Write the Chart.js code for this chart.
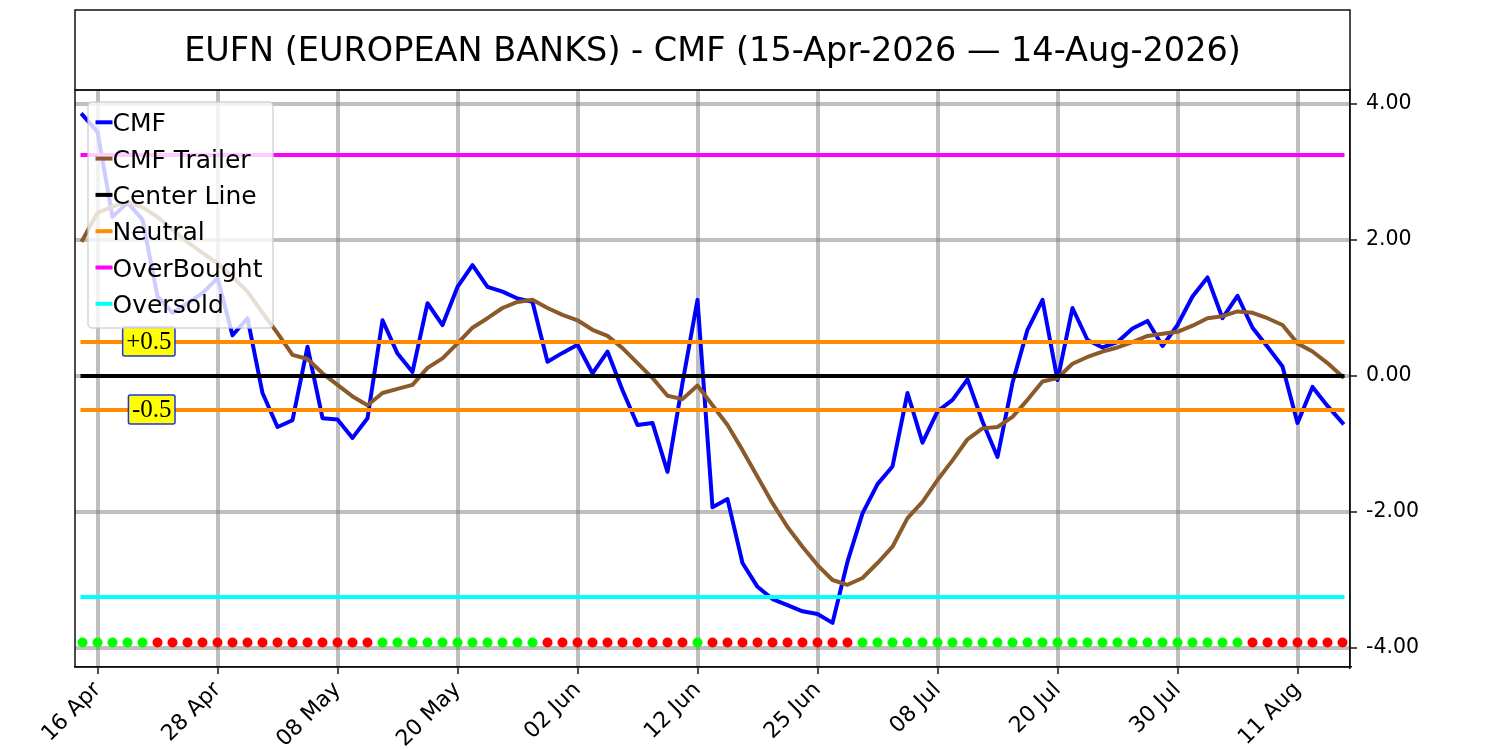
<!DOCTYPE html>
<html>
<head>
<meta charset="utf-8">
<script src="https://cdn.jsdelivr.net/npm/chart.js@4.4.1/dist/chart.umd.min.js"></script>
<style>
  html, body { margin:0; padding:0; background:#fff; }
  canvas { display:block; }
</style>
</head>
<body>
<canvas id="cmfChart" width="1500" height="750"></canvas>
<script>
// one value per trading day, 15-Apr-2026 .. 14-Aug-2026 (85 sessions)
const cmf = [
    3.84, 3.59, 2.34, 2.55, 2.30, 1.17, 0.93, 1.07, 1.22, 1.44,
    0.60, 0.85, -0.25, -0.75, -0.65, 0.43, -0.62, -0.64, -0.91, -0.62,
    0.82, 0.33, 0.06, 1.07, 0.75, 1.31, 1.63, 1.31, 1.24, 1.14,
    1.09, 0.21, 0.34, 0.46, 0.04, 0.36, -0.21, -0.72, -0.69, -1.41,
    -0.10, 1.12, -1.93, -1.81, -2.75, -3.10, -3.28, -3.37, -3.46, -3.50,
    -3.63, -2.73, -2.02, -1.59, -1.33, -0.25, -0.98, -0.52, -0.35, -0.05,
    -0.67, -1.19, -0.10, 0.68, 1.12, -0.06, 1.00, 0.53, 0.42, 0.50,
    0.70, 0.81, 0.44, 0.75, 1.17, 1.45, 0.85, 1.18, 0.71, 0.43,
    0.14, -0.69, -0.16, -0.44, -0.69
];
const trailer = [
    2.00, 2.40, 2.49, 2.56, 2.48, 2.34, 2.15, 1.97, 1.81, 1.66,
    1.46, 1.24, 0.93, 0.63, 0.31, 0.25, 0.04, -0.13, -0.30, -0.43,
    -0.25, -0.19, -0.13, 0.12, 0.26, 0.48, 0.71, 0.85, 1.00, 1.09,
    1.12, 1.00, 0.90, 0.82, 0.68, 0.59, 0.41, 0.19, -0.03, -0.29,
    -0.34, -0.14, -0.43, -0.72, -1.09, -1.48, -1.87, -2.22, -2.51, -2.78,
    -3.00, -3.07, -2.97, -2.75, -2.51, -2.09, -1.85, -1.53, -1.24, -0.93,
    -0.77, -0.75, -0.60, -0.35, -0.08, -0.03, 0.18, 0.28, 0.36, 0.42,
    0.50, 0.59, 0.62, 0.65, 0.74, 0.85, 0.88, 0.95, 0.93, 0.85,
    0.75, 0.48, 0.36, 0.19, -0.01
];
// 1 = green dot, 0 = red dot
const signal = [
    1,1,1,1,1, 0,0,0,0,0,0,0,0,0,0,0,0,0,0,0,
    1,1,1,1,1,1,1,1,1,1,1, 0,0,0,0,0,0,0,0,0,0,
    1, 0,0,0,0,0,0,0,0,0,0,
    1,1,1,1,1,1,1,1,1,1,1,1,1,1,1,1,1,1,1,1,1,1,1,1,1,1,
    0,0,0,0,0,0,0
];
const tickPos = [1, 9, 17, 25, 33, 41, 49, 57, 65, 73, 81];
const tickLabels = ['16 Apr', '28 Apr', '08 May', '20 May', '02 Jun', '12 Jun',
                    '25 Jun', '08 Jul', '20 Jul', '30 Jul', '11 Aug'];
const yTicks = [-4, -2, 0, 2, 4];
const centerLevel = 0;
const neutralLevel = 0.5;
const overBought = 3.25;
const overSold = -3.25;
const dotLevel = -3.92;
const titleText = 'EUFN (EUROPEAN BANKS) - CMF (15-Apr-2026 \u2014 14-Aug-2026)';

const lastIdx = cmf.length - 1;
const series = arr => arr.map((v, i) => ({x: i, y: v}));
const flat = lvl => [{x: 0, y: lvl}, {x: lastIdx, y: lvl}];

function lineSet(label, data, color, order, inLegend) {
    return {
        label, data, borderColor: color, backgroundColor: color,
        borderWidth: 4, pointRadius: 0, tension: 0, fill: false,
        borderCapStyle: 'square', borderJoinStyle: 'round',
        order, inLegend
    };
}

const datasets = [
    lineSet('CMF', series(cmf), '#0000ff', 7, true),
    lineSet('CMF Trailer', series(trailer), '#8b5a2b', 6, true),
    lineSet('Center Line', flat(centerLevel), '#000000', 5, true),
    lineSet('Neutral', flat(neutralLevel), '#ff8c00', 4, true),
    lineSet('Neutral low', flat(-neutralLevel), '#ff8c00', 4, false),
    lineSet('OverBought', flat(overBought), '#ff00ff', 3, true),
    lineSet('Oversold', flat(overSold), '#00ffff', 2, true),
    {
        label: 'signal',
        data: signal.map((s, i) => ({x: i, y: dotLevel})),
        showLine: false,
        pointRadius: 5,
        pointBorderWidth: 0,
        pointBackgroundColor: signal.map(s => s ? '#00ff00' : '#ff0000'),
        order: 1,
        inLegend: false
    }
];

const FONT = '"DejaVu Sans", sans-serif';

const framePlugin = {
    id: 'frame',
    afterDraw(chart) {
        const ctx = chart.ctx, a = chart.chartArea;
        ctx.save();
        ctx.strokeStyle = '#111';
        ctx.lineWidth = 1.5;
        ctx.strokeRect(a.left, a.top, a.right - a.left, a.bottom - a.top);
        // title box
        ctx.strokeRect(a.left, 10, a.right - a.left, a.top - 10);
        ctx.fillStyle = '#000';
        ctx.font = '33.5px ' + FONT;
        ctx.textAlign = 'center';
        ctx.textBaseline = 'alphabetic';
        ctx.fillText(titleText, (a.left + a.right) / 2, 61);
        ctx.restore();
    }
};

const tagPlugin = {
    id: 'levelTags',
    afterDatasetsDraw(chart) {
        const ctx = chart.ctx;
        const xs = chart.scales.x, ys = chart.scales.y;
        ctx.save();
        ctx.font = '25px "Liberation Serif", serif';
        ctx.textBaseline = 'middle';
        ctx.textAlign = 'right';
        [['+0.5', neutralLevel], ['-0.5', -neutralLevel]].forEach(([txt, lvl]) => {
            const right = xs.getPixelForValue(5.9);
            const cy = ys.getPixelForValue(lvl) - 0.5;
            const w = ctx.measureText(txt).width;
            ctx.beginPath();
            ctx.roundRect(right - w - 3, cy - 14.5, w + 7, 29, 2);
            ctx.fillStyle = '#ffff00';
            ctx.fill();
            ctx.lineWidth = 1.5;
            ctx.strokeStyle = '#2233dd';
            ctx.stroke();
            ctx.fillStyle = '#000';
            ctx.fillText(txt, right + 0.5, cy + 1);
        });
        ctx.restore();
    }
};

const legendPlugin = {
    id: 'cornerLegend',
    afterDatasetsDraw(chart) {
        const ctx = chart.ctx, a = chart.chartArea;
        const items = chart.data.datasets.filter(d => d.inLegend);
        const bx = a.left + 13, by = a.top + 12, bw = 185, bh = 226;
        ctx.save();
        ctx.beginPath();
        ctx.roundRect(bx, by, bw, bh, 4);
        ctx.fillStyle = 'rgba(255,255,255,0.8)';
        ctx.fill();
        ctx.strokeStyle = 'rgba(204,204,204,0.8)';
        ctx.lineWidth = 1.5;
        ctx.stroke();
        ctx.font = '25px ' + FONT;
        ctx.textAlign = 'left';
        ctx.textBaseline = 'alphabetic';
        items.forEach((d, k) => {
            const cy = by + 20.3 + k * 36.3;
            ctx.beginPath();
            ctx.moveTo(bx + 9.5, cy);
            ctx.lineTo(bx + 22.5, cy);
            ctx.strokeStyle = d.borderColor;
            ctx.lineWidth = 4;
            ctx.lineCap = 'square';
            ctx.stroke();
            ctx.fillStyle = '#000';
            ctx.fillText(d.label, bx + 24.5, cy + 9);
        });
        ctx.restore();
    }
};

const gridStyle = {
    color: 'rgba(128,128,128,0.5)',
    lineWidth: 4,
    tickColor: '#111',
    tickWidth: 1.5,
    tickLength: 7
};

new Chart(document.getElementById('cmfChart'), {
    type: 'line',
    data: { datasets },
    options: {
        responsive: false,
        animation: false,
        devicePixelRatio: 1,
        layout: { padding: { left: 75, top: 90, right: 0, bottom: 0 } },
        plugins: {
            legend: { display: false },
            tooltip: { enabled: false },
            title: { display: false }
        },
        scales: {
            x: {
                type: 'linear',
                min: -0.5,
                max: lastIdx + 0.5,
                afterBuildTicks: s => { s.ticks = tickPos.map(v => ({value: v})); },
                afterFit: s => { s.height = 83; },
                ticks: {
                    autoSkip: false,
                    maxRotation: 45,
                    minRotation: 45,
                    padding: 3,
                    color: '#000',
                    font: { family: FONT, size: 22 },
                    callback: v => tickLabels[tickPos.indexOf(v)]
                },
                grid: gridStyle,
                border: { display: true, color: '#111', width: 1.5 }
            },
            y: {
                position: 'right',
                min: -4.279,
                max: 4.206,
                afterBuildTicks: s => { s.ticks = yTicks.map(v => ({value: v})); },
                afterFit: s => { s.width = 150; },
                ticks: {
                    padding: 9,
                    color: '#000',
                    font: { family: FONT, size: 20.5 },
                    callback: v => v.toFixed(2)
                },
                grid: gridStyle,
                border: { display: true, color: '#111', width: 1.5 }
            }
        }
    },
    plugins: [framePlugin, tagPlugin, legendPlugin]
});
</script>
</body>
</html>
